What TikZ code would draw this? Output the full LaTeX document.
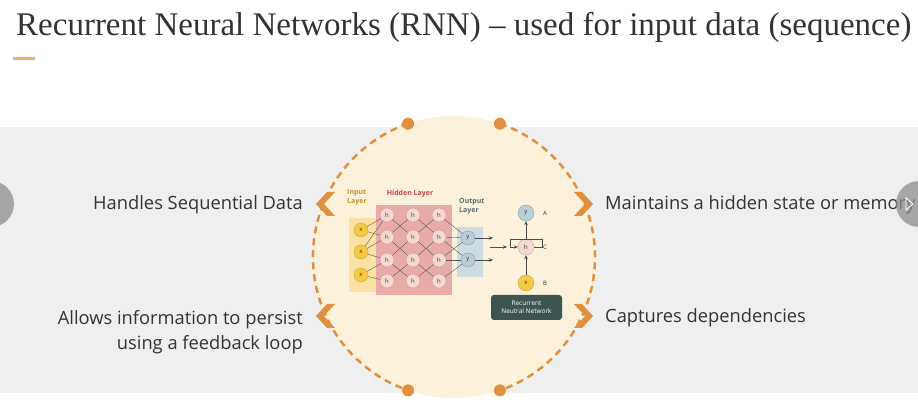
\documentclass[tikz,border=0pt]{standalone}
\usepackage{fontspec}
\setmainfont{Open Sans}
\newfontfamily\titlefont{Liberation Serif}
\usepackage{tikz}
\usetikzlibrary{arrows.meta,calc,positioning}

\definecolor{dashorange}{HTML}{E0913F}
\definecolor{cream}{HTML}{FCF1DA}
\definecolor{bandgray}{HTML}{EFEFEF}
\definecolor{txtgray}{HTML}{333333}
\definecolor{hidpink}{HTML}{E9ABA8}
\definecolor{hnodefill}{HTML}{F6D8D3}
\definecolor{xfill}{HTML}{F6C945}
\definecolor{yfill}{HTML}{B9CFD8}
\definecolor{outbox}{HTML}{CCDCE0}
\definecolor{inbox}{HTML}{FBE2A4}
\definecolor{rnnbox}{HTML}{3D5451}
\definecolor{inlbl}{HTML}{C2952A}
\definecolor{hidlbl}{HTML}{C0474A}
\definecolor{outlbl}{HTML}{5A6E76}
\definecolor{tanline}{HTML}{E2B36F}
\definecolor{slidergray}{HTML}{8E8E8E}

\begin{document}
\begin{tikzpicture}[x=1pt, y=-1pt,
    neuron/.style={circle, inner sep=0pt, minimum size=14pt, line width=0.3pt,
        font=\fontsize{6}{6}\selectfont, text=txtgray},
    hneuron/.style={neuron, fill=hnodefill, draw=hidpink!85!black},
    xneuron/.style={neuron, fill=xfill, draw=xfill!80!black},
    yneuron/.style={neuron, fill=yfill, draw=yfill!70!black},
    wire/.style={draw=black!65, line width=0.4pt},
    point/.style={-{Stealth[length=4pt,width=3.5pt]}, draw=black!70, line width=0.6pt},
    layerlbl/.style={font=\fontsize{7}{9}\selectfont\bfseries, inner sep=0pt, align=left},
    cellbl/.style={font=\fontsize{6}{6}\selectfont, text=txtgray, inner sep=0pt},
    feature/.style={font=\fontsize{18.3}{25}\selectfont, text=txtgray, inner sep=0pt},
    ]
    \useasboundingbox (0,0) rectangle (918,419);

    % band and circle
    \fill[bandgray] (0,127) rectangle (918,393);
    \coordinate (cen) at (454,257);
    \fill[cream] (cen) circle (141);
    \coordinate (dTL) at ($(cen)+(-109:141)$);
    \coordinate (dTR) at ($(cen)+(-71:141)$);
    \coordinate (dBL) at ($(cen)+(109:141)$);
    \coordinate (dBR) at ($(cen)+(71:141)$);
    \draw[dashorange, line width=2.5pt, dash pattern=on 7pt off 5pt]
        (dTL) arc[start angle=-109, end angle=-251, radius=141];
    \draw[dashorange, line width=2.5pt, dash pattern=on 7pt off 5pt]
        (dTR) arc[start angle=-71, end angle=71, radius=141];
    \foreach \d in {dTL,dTR,dBL,dBR}
        \fill[dashorange] (\d) circle (6);

    % chevrons
    \foreach \yy in {204,316} {
        \fill[dashorange] (316,\yy) -- ++(11,-12) -- ++(8,0) -- ++(-11,12)
            -- ++(11,12) -- ++(-8,0) -- cycle;
        \fill[dashorange] (593,\yy) -- ++(-11,-12) -- ++(-8,0) -- ++(11,12)
            -- ++(-11,12) -- ++(8,0) -- cycle;
    }

    % layer boxes
    \fill[inbox] (349,218) rectangle (383,292);
    \fill[hidpink] (376,205) rectangle (452,295);
    \fill[outbox] (457,227) rectangle (483,277);

    \node[layerlbl, text=inlbl, anchor=north west] (linput) at (347,189) {Input\\Layer};
    \node[layerlbl, text=hidlbl] (lhidden) at (410,194) {Hidden Layer};
    \node[layerlbl, text=outlbl, anchor=north west] (loutput) at (459,198) {Output\\Layer};

    % neurons
    \foreach \i/\yy in {1/230,2/252,3/275}
        \node[xneuron] (x\i) at (361,\yy) {x};
    \foreach \c/\xx in {1/387,2/413,3/439}
        \foreach \r/\yy in {1/215,2/237,3/260,4/281}
            \node[hneuron] (h\c\r) at (\xx,\yy) {h};
    \node[yneuron] (y1) at (468,238) {y};
    \node[yneuron] (y2) at (468,260) {y};

    % weights
    \foreach \i/\r in {1/1,1/2,2/1,2/2,2/3,3/3,3/4}
        \draw[wire] (x\i) -- (h1\r);
    \foreach \c/\d in {1/2,2/3}
        \foreach \r/\s in {1/2,2/3,3/4} {
            \draw[wire] (h\c\r) -- (h\d\s);
            \draw[wire] (h\c\s) -- (h\d\r);
        }
    \foreach \r/\o in {1/1,2/1,2/2,3/1,3/2,4/2}
        \draw[wire] (h3\r) -- (y\o);
    \coordinate (o1) at (493,238);
    \coordinate (o2) at (493,260);
    \draw[point] (y1) -- (o1);
    \draw[point] (y2) -- (o2);

    % recurrent cell
    \node[yneuron, minimum size=16pt] (cy) at (526,213) {y};
    \node[hneuron, minimum size=16pt] (ch) at (526,247) {h};
    \node[xneuron, minimum size=16pt] (cx) at (526,283) {x};
    \node[cellbl] (la) at (545,213) {A};
    \node[cellbl] (lc) at (545,247) {C};
    \node[cellbl] (lb) at (545,283) {B};
    \coordinate (min) at (490,247);
    \coordinate (mout) at (507,247);
    \draw[point] (min) -- (mout);
    \draw[point] (cx) -- (ch);
    \draw[point] (ch) -- (cy);
    \draw[point] (ch.east) -- ++(8,0) |- (510,239) |- (ch.west);

    \node[fill=rnnbox, rounded corners=3pt, minimum width=71pt, minimum height=25pt,
        inner sep=0pt, align=center, text=white, font=\fontsize{6.5}{8}\selectfont]
        (rnn) at (526.5,307.5) {Recurrent\\Neutral Network};

    % feature texts
    \node[feature, anchor=base east] (f1) at (303,210) {Handles Sequential Data};
    \node[feature, anchor=base east] (f2a) at (303,325) {Allows information to persist};
    \node[feature, anchor=base east] (f2b) at (303,350) {using a feedback loop};
    \node[feature, anchor=base west] (f3) at (605,210) {Maintains a hidden state or memory};
    \node[feature, anchor=base west] (f4) at (605,323) {Captures dependencies};

    % slider buttons
    \fill[slidergray, opacity=0.75] (-9,204) circle (23);
    \fill[slidergray, opacity=0.75] (919,204) circle (23);
    \draw[white, line width=0.8pt] (906,198) -- (913,204) -- (906,210) -- cycle;

    % title
    \node[anchor=base west, inner sep=0pt, text=txtgray,
        font=\titlefont\fontsize{33}{33}\selectfont] (title) at (16,36)
        {Recurrent Neural Networks (RNN) – used for input data (sequence)};
    \draw[tanline, line width=3pt] (13,59) -- (35,59);
\end{tikzpicture}
\end{document}
